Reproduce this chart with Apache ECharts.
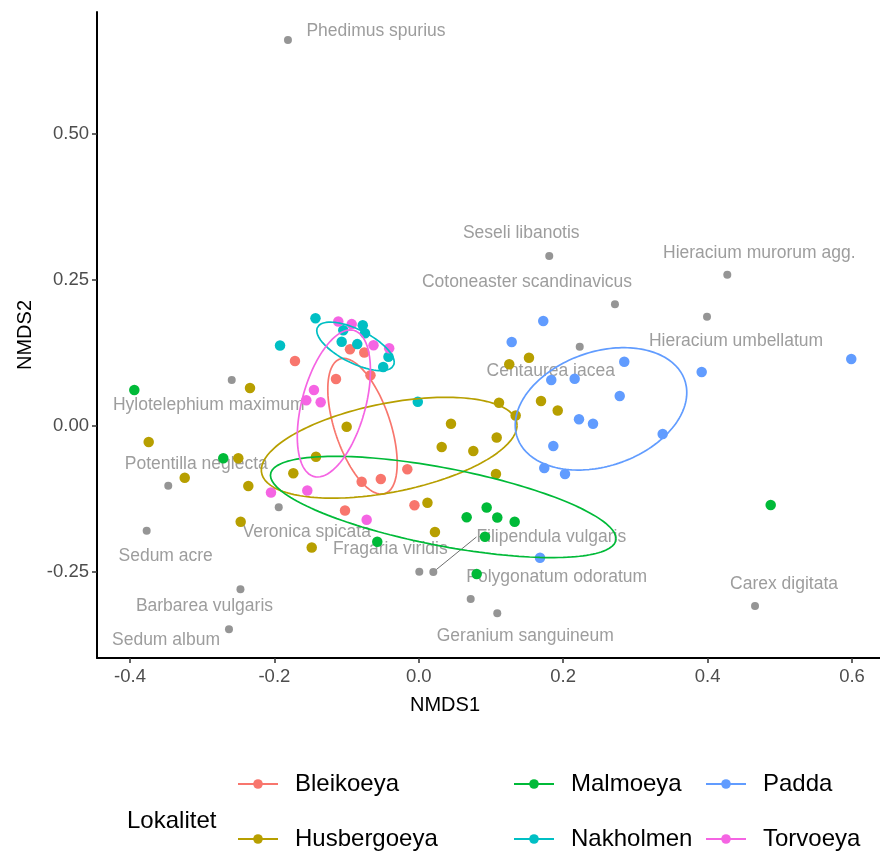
<!DOCTYPE html>
<html>
<head>
<meta charset="utf-8">
<script src="https://cdn.jsdelivr.net/npm/echarts@6/dist/echarts.min.js"></script>
<style>
  html, body { margin: 0; padding: 0; background: #ffffff; }
  #chart { width: 880px; height: 856px; }
</style>
</head>
<body>
<div id="chart"></div>
<script>
// NMDS site scores per locality
const groups = ['Bleikoeya', 'Husbergoeya', 'Malmoeya', 'Nakholmen', 'Padda', 'Torvoeya'];

const bleikoeya = [
  [-0.1715, 0.1111], [-0.0953, 0.1311], [-0.0755, 0.1256], [-0.1147, 0.0803], [-0.0669, 0.0868],
  [-0.0791, -0.0952], [-0.0526, -0.0906], [-0.0159, -0.0740], [-0.0060, -0.1354], [-0.1022, -0.1444]
];
const husbergoeya = [
  [-0.2338, 0.0650], [-0.3741, -0.0274], [-0.2500, -0.0552], [-0.3242, -0.0884], [-0.2361, -0.1026],
  [-0.2467, -0.1636], [-0.1483, -0.2077], [-0.1738, -0.0809], [-0.1424, -0.0525], [-0.0999, -0.0012],
  [0.0120, -0.1313], [0.0224, -0.1812], [0.0446, 0.0039], [0.0317, -0.0359], [0.0755, -0.0427],
  [0.1079, -0.0197], [0.1111, 0.0398], [0.1069, -0.0821], [0.1342, 0.0179], [0.1693, 0.0427],
  [0.1924, 0.0265], [0.1253, 0.1055], [0.1526, 0.1168]
];
const malmoeya = [
  [-0.3940, 0.0615], [-0.2708, -0.0552], [-0.0575, -0.1978], [0.0663, -0.1561], [0.0940, -0.1393],
  [0.1087, -0.1564], [0.1328, -0.1636], [0.0917, -0.1892], [0.0802, -0.2530], [0.4874, -0.1350]
];
const nakholmen = [
  [-0.1431, 0.1841], [-0.1922, 0.1376], [-0.1046, 0.1636], [-0.0776, 0.1721], [-0.0745, 0.1585],
  [-0.1068, 0.1441], [-0.0852, 0.1400], [-0.0420, 0.1185], [-0.0493, 0.1007], [-0.0014, 0.0415]
];
const padda = [
  [0.1724, 0.1795], [0.1287, 0.1436], [0.2846, 0.1099], [0.3918, 0.0923], [0.5990, 0.1145],
  [0.1835, 0.0786], [0.2159, 0.0809], [0.2783, 0.0513], [0.2219, 0.0115], [0.2413, 0.0039],
  [0.3378, -0.0137], [0.1863, -0.0342], [0.1738, -0.0718], [0.2025, -0.0821], [0.1679, -0.2251]
];
const torvoeya = [
  [-0.1115, 0.1786], [-0.0929, 0.1742], [-0.0627, 0.1381], [-0.0410, 0.1328], [-0.1452, 0.0615],
  [-0.1558, 0.0439], [-0.1359, 0.0405], [-0.1544, -0.1103], [-0.2047, -0.1138], [-0.0722, -0.1603]
];

// NMDS species scores
const speciesNames = [
  'Phedimus spurius', 'Seseli libanotis', 'Hieracium murorum agg.', 'Cotoneaster scandinavicus',
  'Hieracium umbellatum', 'Centaurea jacea', 'Hylotelephium maximum', 'Potentilla neglecta',
  'Veronica spicata', 'Sedum acre', 'Barbarea vulgaris', 'Sedum album', 'Fragaria viridis',
  'Filipendula vulgaris', 'Polygonatum odoratum', 'Geranium sanguineum', 'Carex digitata'
];
const speciesScores = [
  [-0.1812, 0.6598], [0.1807, 0.2906], [0.4273, 0.2586], [0.2717, 0.2080],
  [0.3992, 0.1868], [0.2229, 0.1356], [-0.2591, 0.0786], [-0.3470, -0.1021],
  [-0.1940, -0.1390], [-0.3769, -0.1790], [-0.2470, -0.2791], [-0.2629, -0.3475], [0.0007, -0.2491],
  [0.0201, -0.2496], [0.0719, -0.2957], [0.1087, -0.3202], [0.4657, -0.3077]
];

// Axis ticks
const xTicks = [-0.4, -0.2, 0.0, 0.2, 0.4, 0.6];
const yTicks = [-0.25, 0.0, 0.25, 0.5];

// Repelled label placement (pixels from each species point) and leader lines
const labelNudge = [
  [88, -9], [-28, -23], [32, -22], [-88, -22],
  [29, 24], [-29, 25], [-23, 25], [28, -22],
  [28, 25], [19, 25], [-36, 17], [-63, 11], [-29, -23],
  [118, -35], [86, -22], [28, 23], [29, -22]
];
const withLeader = ['Filipendula vulgaris'];

const siteSets = [bleikoeya, husbergoeya, malmoeya, nakholmen, padda, torvoeya];
const palette = ['#F8766D', '#B79F00', '#00BA38', '#00BFC4', '#619CFF', '#F564E3'];

// One-standard-deviation ellipse around a group centroid (sample covariance)
function sdEllipse(pts, steps) {
  const n = pts.length;
  let mx = 0, my = 0;
  pts.forEach(p => { mx += p[0]; my += p[1]; });
  mx /= n; my /= n;
  let sxx = 0, syy = 0, sxy = 0;
  pts.forEach(p => {
    const dx = p[0] - mx, dy = p[1] - my;
    sxx += dx * dx; syy += dy * dy; sxy += dx * dy;
  });
  sxx /= (n - 1); syy /= (n - 1); sxy /= (n - 1);
  const a = Math.sqrt(sxx), b = sxy / a, c = Math.sqrt(Math.max(syy - b * b, 0));
  const out = [];
  for (let i = 0; i <= steps; i++) {
    const t = 2 * Math.PI * i / steps;
    out.push([mx + a * Math.cos(t), my + b * Math.cos(t) + c * Math.sin(t)]);
  }
  return out;
}

const series = [];
// ellipses first so legend icons take the line + dot look
groups.forEach((g, i) => {
  series.push({
    name: g, type: 'line', data: sdEllipse(siteSets[i], 180),
    showSymbol: false, symbol: 'circle', symbolSize: 11,
    lineStyle: { color: palette[i], width: 1.7 }, itemStyle: { color: palette[i] },
    z: 4, silent: true, animation: false
  });
});
series.push({
  name: 'species', type: 'scatter', z: 2,
  symbolSize: 8, itemStyle: { color: '#7a7a7a' },
  data: speciesNames.map((nm, i) => ({
    name: nm, value: speciesScores[i],
    labelLine: { show: withLeader.indexOf(nm) >= 0, lineStyle: { color: '#6e6e6e', width: 1 } }
  })),
  label: {
    show: true, position: 'inside', formatter: '{b}',
    color: '#858585', fontSize: 17.5, fontFamily: 'Liberation Sans, Arial, sans-serif'
  },
  labelLayout: function (p) {
    const d = labelNudge[p.dataIndex];
    return { dx: d[0], dy: d[1] };
  },
  silent: true, animation: false
});
groups.forEach((g, i) => {
  series.push({
    name: g, type: 'scatter', data: siteSets[i], symbolSize: 10.5,
    itemStyle: { color: palette[i], opacity: 1 }, z: 3, animation: false
  });
});

const legendCols = [237, 513, 705];
const legendRows = [772, 827];
const legends = groups.map((g, i) => ({
  data: [g],
  left: legendCols[Math.floor(i / 2)],
  top: legendRows[i % 2],
  padding: 0,
  itemWidth: 40, itemHeight: 12,
  selectedMode: false,
  textStyle: { fontSize: 24, color: '#000', fontFamily: 'Liberation Sans, Arial, sans-serif', padding: [0, 0, 0, 12] }
}));

const chart = echarts.init(document.getElementById('chart'), null, { renderer: 'canvas' });
chart.setOption({
  backgroundColor: '#ffffff',
  animation: false,
  textStyle: { fontFamily: 'Liberation Sans, Arial, sans-serif' },
  title: {
    text: 'Lokalitet', left: 122, top: 804,
    textStyle: { fontSize: 24, fontWeight: 'normal', color: '#000' }
  },
  legend: legends,
  grid: { left: 97, top: 12, right: 0, bottom: 198, containLabel: false },
  xAxis: {
    type: 'value', min: -0.4457, max: 0.6388,
    name: 'NMDS1', nameLocation: 'middle', nameGap: 37,
    nameTextStyle: { fontSize: 20, color: '#000', padding: [0, 87, 0, 0] },
    axisLine: { show: true, onZero: false, lineStyle: { color: '#000', width: 2 } },
    axisTick: { show: true, length: 5, customValues: xTicks, lineStyle: { color: '#333', width: 1.5 } },
    axisLabel: {
      customValues: xTicks, fontSize: 18.5, color: '#4d4d4d', margin: 9,
      formatter: v => v.toFixed(1)
    },
    splitLine: { show: false }
  },
  yAxis: {
    type: 'value', min: -0.3966, max: 0.7077,
    name: 'NMDS2', nameLocation: 'middle', nameGap: 62, nameRotate: 90,
    nameTextStyle: { fontSize: 20, color: '#000' },
    axisLine: { show: true, onZero: false, lineStyle: { color: '#000', width: 2 } },
    axisTick: { show: true, length: 5, customValues: yTicks, lineStyle: { color: '#333', width: 1.5 } },
    axisLabel: {
      customValues: yTicks, fontSize: 18.5, color: '#4d4d4d', margin: 8,
      formatter: v => v.toFixed(2)
    },
    splitLine: { show: false }
  },
  series: series
});
</script>
</body>
</html>
